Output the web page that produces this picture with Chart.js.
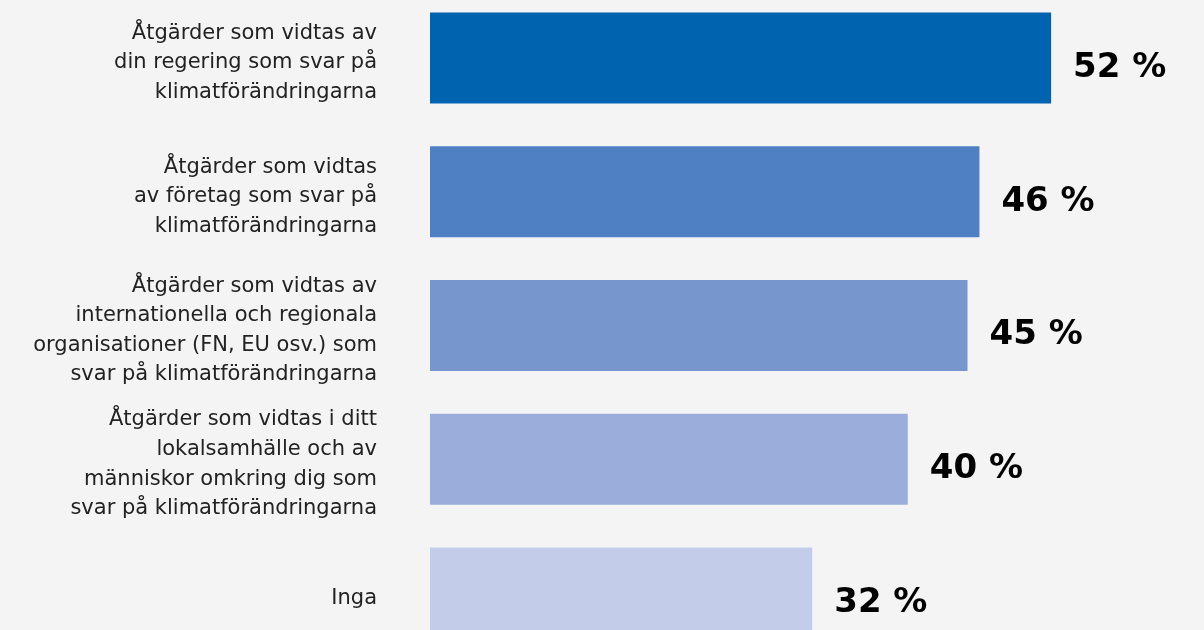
<!DOCTYPE html>
<html lang="sv">
<head>
    <meta charset="UTF-8">
    <title>Åtgärder som svar på klimatförändringarna</title>
    <script src="https://cdn.jsdelivr.net/npm/chart.js"></script>
    <style>
        html, body {
            margin: 0;
            padding: 0;
            width: 1204px;
            height: 630px;
            overflow: hidden;
            background: #f4f4f4;
        }
        .wrap {
            position: absolute;
            left: 0;
            top: -9px;
            width: 1204px;
            height: 669px;
        }
    </style>
</head>
<body>
    <div class="wrap">
        <canvas id="chart"></canvas>
    </div>
    <script>
        const categories = [
            ['Åtgärder som vidtas av', 'din regering som svar på', 'klimatförändringarna'],
            ['Åtgärder som vidtas', 'av företag som svar på', 'klimatförändringarna'],
            ['Åtgärder som vidtas av', 'internationella och regionala', 'organisationer (FN, EU osv.) som', 'svar på klimatförändringarna'],
            ['Åtgärder som vidtas i ditt', 'lokalsamhälle och av', 'människor omkring dig som', 'svar på klimatförändringarna'],
            ['Inga']
        ];
        const values = [52, 46, 45, 40, 32];
        const barColors = ['#0063b0', '#5080c4', '#7696cd', '#9baedb', '#c3cdea'];

        // värdeetiketter till höger om staplarna
        const valueLabels = {
            id: 'valueLabels',
            afterDatasetsDraw(chart) {
                const ctx = chart.ctx;
                const meta = chart.getDatasetMeta(0);
                ctx.save();
                ctx.font = 'bold 34px "DejaVu Sans"';
                ctx.fillStyle = '#000';
                ctx.textAlign = 'left';
                ctx.textBaseline = 'middle';
                meta.data.forEach((bar, i) => {
                    ctx.fillText(values[i] + ' %', bar.x + 22, bar.y + 10);
                });
                ctx.restore();
            }
        };

        new Chart(document.getElementById('chart'), {
            type: 'bar',
            data: {
                labels: categories,
                datasets: [{
                    data: values,
                    backgroundColor: barColors,
                    borderWidth: 0,
                    barPercentage: 0.68,
                    categoryPercentage: 1
                }]
            },
            options: {
                indexAxis: 'y',
                responsive: true,
                maintainAspectRatio: false,
                animation: false,
                layout: { padding: 0 },
                plugins: {
                    legend: { display: false },
                    tooltip: { enabled: false }
                },
                scales: {
                    x: {
                        display: false,
                        min: 0,
                        max: 64.8
                    },
                    y: {
                        grid: { display: false, drawTicks: false },
                        border: { display: false },
                        afterFit(scale) {
                            scale.width = 430;
                            scale.paddingTop = 0;
                            scale.paddingBottom = 0;
                            // etiketterna sitter lite under stapelns mitt
                            if (!scale._shifted) {
                                const orig = scale.drawLabels;
                                scale.drawLabels = function (area) {
                                    this.ctx.save();
                                    this.ctx.translate(0, 5);
                                    orig.call(this, area);
                                    this.ctx.restore();
                                };
                                scale._shifted = true;
                            }
                        },
                        ticks: {
                            padding: 53,
                            color: '#222',
                            font: { family: 'DejaVu Sans', size: 21, lineHeight: 1.405 }
                        }
                    }
                }
            },
            plugins: [valueLabels]
        });
    </script>
</body>
</html>
